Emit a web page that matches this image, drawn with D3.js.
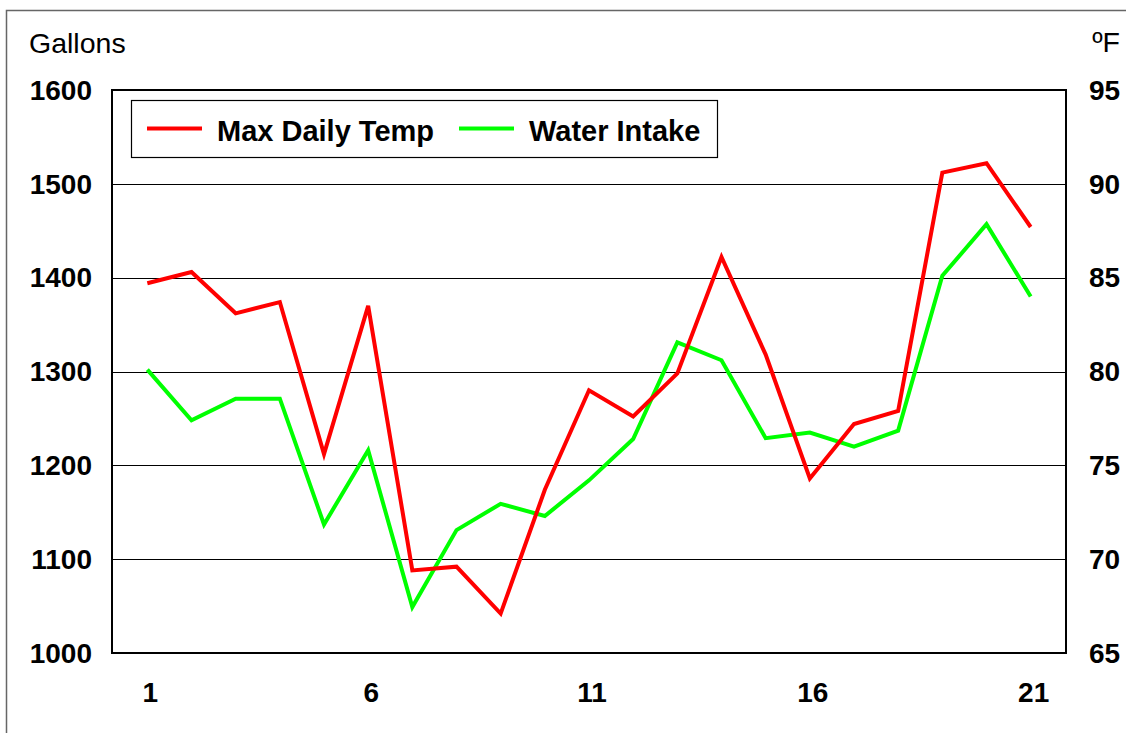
<!DOCTYPE html>
<html>
<head>
<meta charset="utf-8">
<script src="https://cdn.jsdelivr.net/npm/d3@7"></script>
<style>
    body { margin: 0; background: #fff; }
    svg { display: block; font-family: Arial, "Liberation Sans", sans-serif; }
    .tick-label { font-size: 28px; font-weight: bold; fill: #000; }
    .unit { font-size: 28.5px; fill: #000; }
    .legend-text { font-size: 29px; font-weight: bold; fill: #000; }
</style>
</head>
<body>
<div id="chart"></div>
<script>
const days = d3.range(1, 22)
const maxTemp = [84.7, 85.3, 83.1, 83.7, 75.6, 83.5, 69.4, 69.6, 67.1, 73.7, 79.0,
    77.6, 79.9, 86.1, 80.9, 74.3, 77.2, 77.9, 90.6, 91.1, 87.7]
const waterIntake = [1302, 1248, 1271, 1271, 1137, 1216, 1049, 1131, 1159, 1146, 1184,
    1228, 1331, 1312, 1229, 1235, 1220, 1237, 1402, 1457, 1380]
const xTicks = [1, 6, 11, 16, 21]
const gallonTicks = [1000, 1100, 1200, 1300, 1400, 1500, 1600]
const tempTicks = [65, 70, 75, 80, 85, 90, 95]
const seriesNames = ['Max Daily Temp', 'Water Intake']
const seriesColors = ['#ff0000', '#00ff00']

drawChart()
function drawChart() {
    const dim = {
        width: 1126,
        height: 733,
        margin: { top: 90, right: 60, bottom: 80, left: 112 }
    }
    dim.boundedWidth = dim.width - dim.margin.left - dim.margin.right
    dim.boundedHeight = dim.height - dim.margin.top - dim.margin.bottom

    const svg = d3.select('#chart').append('svg')
        .attr('width', dim.width)
        .attr('height', dim.height)

    // outer chart frame, runs off the page on the right and bottom
    svg.append('rect')
        .attr('x', 6.5).attr('y', 10.5)
        .attr('width', dim.width + 20).attr('height', dim.height + 20)
        .attr('fill', 'none').attr('stroke', '#666').attr('stroke-width', 1.5)

    const bounds = svg.append('g')
        .attr('transform', `translate(${dim.margin.left},${dim.margin.top})`)

    const xScale = d3.scalePoint()
        .domain(days)
        .range([0, dim.boundedWidth])
        .padding(0.8)
    const yGallons = d3.scaleLinear()
        .domain([1000, 1600])
        .range([dim.boundedHeight, 0])
    const yTemp = d3.scaleLinear()
        .domain([65, 95])
        .range([dim.boundedHeight, 0])

    // gridlines
    bounds.selectAll('.grid').data(gallonTicks.slice(1, -1))
        .join('line').attr('class', 'grid')
        .attr('x1', 0).attr('x2', dim.boundedWidth)
        .attr('y1', d => Math.round(yGallons(d)) + .5)
        .attr('y2', d => Math.round(yGallons(d)) + .5)
        .attr('stroke', '#000').attr('stroke-width', 1.2)

    bounds.append('rect')
        .attr('x', 0).attr('y', 0)
        .attr('width', dim.boundedWidth).attr('height', dim.boundedHeight)
        .attr('fill', 'none').attr('stroke', '#000').attr('stroke-width', 2)

    // left axis
    bounds.selectAll('.y-left').data(gallonTicks)
        .join('text').attr('class', 'tick-label y-left')
        .attr('x', -20)
        .attr('y', d => yGallons(d))
        .attr('dy', '0.35em')
        .attr('text-anchor', 'end')
        .text(d => d)
    // right axis
    bounds.selectAll('.y-right').data(tempTicks)
        .join('text').attr('class', 'tick-label y-right')
        .attr('x', dim.boundedWidth + 23)
        .attr('y', d => yTemp(d))
        .attr('dy', '0.35em')
        .text(d => d)
    // bottom axis
    bounds.selectAll('.x-tick').data(xTicks)
        .join('text').attr('class', 'tick-label x-tick')
        .attr('x', d => xScale(d) + 3)
        .attr('y', dim.boundedHeight + 49)
        .attr('text-anchor', 'middle')
        .text(d => d)

    svg.append('text').attr('class', 'unit')
        .attr('x', 29).attr('y', 53)
        .text('Gallons')
    svg.append('text').attr('class', 'unit')
        .attr('x', 1120).attr('y', 52)
        .attr('text-anchor', 'end')
        .text('ºF')

    const tempLine = d3.line()
        .x((d, i) => xScale(days[i]))
        .y(d => yTemp(d))
    const waterLine = d3.line()
        .x((d, i) => xScale(days[i]))
        .y(d => yGallons(d))

    bounds.append('path')
        .attr('d', waterLine(waterIntake))
        .attr('fill', 'none').attr('stroke', seriesColors[1])
        .attr('stroke-width', 4).attr('stroke-linejoin', 'miter')
    bounds.append('path')
        .attr('d', tempLine(maxTemp))
        .attr('fill', 'none').attr('stroke', seriesColors[0])
        .attr('stroke-width', 4).attr('stroke-linejoin', 'miter')

    // legend
    const legend = svg.append('g')
        .attr('transform', 'translate(131,100)')
    legend.append('rect')
        .attr('x', .5).attr('y', .5)
        .attr('width', 586).attr('height', 57)
        .attr('fill', '#fff').attr('stroke', '#000').attr('stroke-width', 1.2)
    const legendX = [16, 328]
    const items = legend.selectAll('.legend-item').data(seriesNames)
        .join('g').attr('class', 'legend-item')
        .attr('transform', (d, i) => `translate(${legendX[i]},0)`)
    items.append('line')
        .attr('x1', 0).attr('x2', 55)
        .attr('y1', 28.5).attr('y2', 28.5)
        .attr('stroke', (d, i) => seriesColors[i])
        .attr('stroke-width', 4)
    items.append('text').attr('class', 'legend-text')
        .attr('x', 70).attr('y', 41)
        .text(d => d)
}
</script>
</body>
</html>
